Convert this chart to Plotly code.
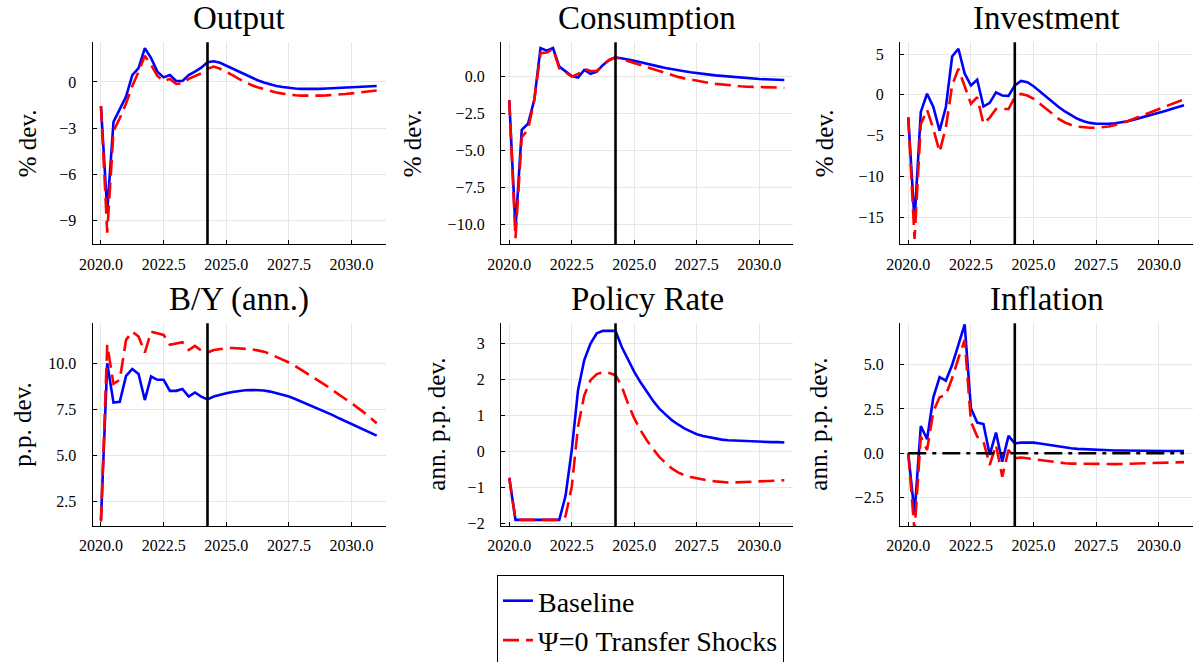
import plotly.graph_objects as go

# ---------------- data ----------------
quarters = [2020 + q / 4 for q in range(45)]
forecast_start = 2024.25

output_base = [-1.6, -8.4, -2.6, -1.8, -0.95, 0.45, 0.9, 2.2, 1.55, 0.67, 0.3, 0.45, 0.06, 0.06, 0.45, 0.67, 0.93, 1.28,
               1.35, 1.25, 1.06, 0.87, 0.67, 0.47, 0.28, 0.11, -0.04, -0.16, -0.26, -0.33, -0.39, -0.43, -0.45, -0.46,
               -0.46, -0.45, -0.43, -0.41, -0.39, -0.37, -0.35, -0.33, -0.3, -0.28, -0.26]
output_psi0 = [-1.56, -9.8, -3.2, -2.36, -1.4, -0.26, 0.67, 1.7, 1.1, 0.39, 0.06, 0.2, -0.13, -0.09, 0.2, 0.39, 0.56, 0.85,
               1.0, 0.86, 0.67, 0.44, 0.2, -0.01, -0.2, -0.35, -0.48, -0.6, -0.69, -0.76, -0.82, -0.86, -0.89, -0.9,
               -0.9, -0.89, -0.87, -0.85, -0.82, -0.78, -0.74, -0.7, -0.67, -0.62, -0.56]

cons_base = [-1.6, -10.3, -3.6, -3.2, -1.6, 1.9, 1.73, 1.9, 0.65, 0.32, 0.02, -0.09, 0.43, 0.16, 0.32, 0.77, 1.1, 1.28,
             1.22, 1.13, 1.04, 0.93, 0.83, 0.74, 0.65, 0.56, 0.47, 0.4, 0.34, 0.27, 0.2, 0.15, 0.11, 0.06, 0.02,
             -0.03, -0.07, -0.11, -0.14, -0.16, -0.18, -0.2, -0.22, -0.24, -0.25]
cons_psi0 = [-1.6, -10.9, -4.1, -3.6, -1.6, 1.55, 1.6, 1.82, 0.54, 0.25, -0.02, 0.16, 0.5, 0.36, 0.36, 0.77, 1.1, 1.28,
             1.15, 1.02, 0.88, 0.73, 0.59, 0.45, 0.32, 0.19, 0.07, -0.04, -0.14, -0.23, -0.32, -0.39, -0.45, -0.51,
             -0.56, -0.6, -0.63, -0.67, -0.7, -0.71, -0.72, -0.73, -0.74, -0.76, -0.77]

inv_base = [-2.8, -15.5, -2.1, 0.12, -1.5, -4.4, -1.5, 4.7, 5.65, 2.6, 1.15, 1.85, -1.45, -1.0, 0.3, -0.08, -0.15, 1.15,
            1.7, 1.55, 1.05, 0.4, -0.3, -0.9, -1.5, -2.05, -2.55, -2.95, -3.25, -3.45, -3.55, -3.58, -3.55, -3.5,
            -3.4, -3.25, -3.05, -2.85, -2.6, -2.4, -2.2, -1.98, -1.75, -1.53, -1.3]
inv_psi0 = [-2.75, -17.7, -3.6, -1.85, -4.2, -7.0, -4.0, 1.15, 3.2, 1.15, -1.1, -0.3, -3.55, -2.8, -1.75, -1.75, -1.75, -0.3,
            0.1, -0.1, -0.5, -1.1, -1.7, -2.35, -2.95, -3.4, -3.7, -3.9, -4.0, -4.05, -4.05, -4.0, -3.9, -3.7,
            -3.5, -3.25, -2.95, -2.65, -2.35, -2.05, -1.7, -1.4, -1.1, -0.85, -0.6]

by_base = [1.49, 10.0, 7.86, 7.9, 9.31, 9.69, 9.42, 8.0, 9.28, 9.1, 9.1, 8.5, 8.5, 8.6, 8.19, 8.41, 8.19, 8.04,
           8.19, 8.29, 8.37, 8.44, 8.5, 8.53, 8.55, 8.55, 8.52, 8.46, 8.37, 8.29, 8.19, 8.06, 7.92, 7.78, 7.64,
           7.49, 7.34, 7.18, 7.01, 6.86, 6.7, 6.54, 6.38, 6.22, 6.07]
by_psi0 = [1.4, 11.0, 8.88, 9.1, 11.27, 11.72, 11.45, 10.58, 11.72, 11.63, 11.54, 11.0, 11.09, 11.14, 10.72, 10.94, 10.69, 10.58,
           10.72, 10.78, 10.82, 10.83, 10.82, 10.8, 10.76, 10.7, 10.63, 10.5, 10.36, 10.2, 10.04, 9.85, 9.64, 9.43,
           9.22, 9.0, 8.77, 8.53, 8.28, 8.06, 7.83, 7.58, 7.32, 7.03, 6.74]

rate_base = [-0.73, -1.9, -1.9, -1.9, -1.9, -1.9, -1.9, -1.9, -1.9, -1.24, 0.04, 1.7, 2.54, 3.0, 3.28, 3.35, 3.35, 3.35,
             2.9, 2.54, 2.21, 1.92, 1.66, 1.41, 1.19, 1.02, 0.87, 0.75, 0.64, 0.56, 0.48, 0.43, 0.39, 0.36, 0.33,
             0.31, 0.3, 0.29, 0.28, 0.28, 0.27, 0.27, 0.26, 0.26, 0.25]
rate_psi0 = [-0.73, -1.9, -1.9, -1.9, -1.9, -1.9, -1.9, -1.9, -1.9, -1.8, -0.98, 0.69, 1.56, 1.98, 2.15, 2.2, 2.18, 2.12,
             1.8, 1.33, 0.92, 0.59, 0.31, 0.07, -0.15, -0.32, -0.47, -0.58, -0.66, -0.71, -0.75, -0.78, -0.81, -0.83,
             -0.85, -0.86, -0.86, -0.86, -0.85, -0.84, -0.83, -0.82, -0.81, -0.81, -0.8]

infl_base = [0.0, -3.4, 1.54, 0.79, 3.16, 4.29, 4.1, 4.98, 6.11, 7.27, 2.54, 1.73, 1.65, -0.09, 1.17, -0.47, 0.98, 0.56,
             0.6, 0.61, 0.6, 0.55, 0.49, 0.43, 0.38, 0.33, 0.28, 0.25, 0.23, 0.21, 0.19, 0.18, 0.17, 0.16, 0.16,
             0.15, 0.15, 0.14, 0.14, 0.14, 0.13, 0.13, 0.13, 0.13, 0.13]
infl_psi0 = [0.0, -4.4, 0.94, 0.19, 2.35, 3.16, 3.29, 4.23, 5.36, 6.39, 1.79, 0.94, 0.66, -0.66, 0.47, -1.32, 0.19, -0.28,
             -0.24, -0.29, -0.34, -0.39, -0.43, -0.48, -0.53, -0.56, -0.58, -0.59, -0.6, -0.61, -0.62, -0.62, -0.62,
             -0.61, -0.6, -0.59, -0.58, -0.57, -0.56, -0.55, -0.54, -0.53, -0.52, -0.51, -0.5]
infl_zero_x = [2020.0, 2031.0]
infl_zero_y = [0.0, 0.0]

titles = ["Output", "Consumption", "Investment", "B/Y (ann.)", "Policy Rate", "Inflation"]
ylabels = ["% dev.", "% dev.", "% dev.", "p.p. dev.", "ann. p.p. dev.", "ann. p.p. dev."]
series_names = ["Baseline", "Ψ=0 Transfer Shocks"]

x_tick_vals = [2020.0, 2022.5, 2025.0, 2027.5, 2030.0]
x_tick_text = ["2020.0", "2022.5", "2025.0", "2027.5", "2030.0"]

y_tick_vals = [[-9, -6, -3, 0], [-10, -7.5, -5, -2.5, 0], [-15, -10, -5, 0, 5],
               [2.5, 5, 7.5, 10], [-2, -1, 0, 1, 2, 3], [-2.5, 0, 2.5, 5]]
y_tick_text = [["−9", "−6", "−3", "0"], ["−10.0", "−7.5", "−5.0", "−2.5", "0.0"],
               ["−15", "−10", "−5", "0", "5"], ["2.5", "5.0", "7.5", "10.0"],
               ["−2", "−1", "0", "1", "2", "3"], ["−2.5", "0.0", "2.5", "5.0"]]

# ---------------- layout geometry ----------------
W, H = 1197, 662
FONT = "Liberation Serif"
y_ranges = [[-10.56, 2.58], [-11.32, 2.29], [-18.35, 6.44], [1.16, 12.17], [-2.07, 3.56], [-4.1, 7.33]]
x_range = [2019.67, 2031.36]
col_px = [(92.7, 385.7), (501.0, 793.3), (900.0, 1193.0)]
row_px = [(42.3, 244.3), (323.3, 526.0)]
title_y_px = [18, 299]
ylabel_x_px = [[27, 412, 824], [23, 437, 819]]

pairs = [(output_base, output_psi0), (cons_base, cons_psi0), (inv_base, inv_psi0),
         (by_base, by_psi0), (rate_base, rate_psi0), (infl_base, infl_psi0)]

fig = go.Figure()
annotations = []
shapes = []
for i, (base, psi0) in enumerate(pairs):
    r, c = divmod(i, 3)
    n = "" if i == 0 else str(i + 1)
    xa, ya = "x" + n, "y" + n
    fig.add_trace(go.Scatter(x=quarters, y=base, mode="lines", name=series_names[0],
                             line=dict(color="#0000ff", width=2.6), xaxis=xa, yaxis=ya,
                             showlegend=(i == 0), legendgroup="b"))
    fig.add_trace(go.Scatter(x=quarters, y=psi0, mode="lines", name=series_names[1],
                             line=dict(color="#ff0000", width=2.6, dash="16px,7px"), xaxis=xa, yaxis=ya,
                             showlegend=(i == 0), legendgroup="r"))
    if i == 5:
        fig.add_trace(go.Scatter(x=infl_zero_x, y=infl_zero_y, mode="lines", showlegend=False,
                                 line=dict(color="black", width=2.6, dash="18px,6px,4px,6px"),
                                 xaxis=xa, yaxis=ya))
    x0, x1 = col_px[c]
    y0, y1 = row_px[r]
    axstyle = dict(showline=True, linecolor="black", linewidth=1.3, mirror=False,
                   showgrid=True, gridcolor="#e6e6e6", gridwidth=1, zeroline=False,
                   ticks="inside", ticklen=4, tickwidth=1, tickcolor="black", automargin=False,
                   tickfont=dict(family=FONT, size=16, color="black"))
    fig.layout["xaxis" + n] = dict(domain=[x0 / W, x1 / W], range=x_range, anchor=ya,
                                   tickvals=x_tick_vals, ticktext=x_tick_text,
                                   ticklabelstandoff=5, **axstyle)
    fig.layout["yaxis" + n] = dict(domain=[1 - y1 / H, 1 - y0 / H], range=y_ranges[i], anchor=xa,
                                   tickvals=y_tick_vals[i], ticktext=y_tick_text[i],
                                   ticklabelstandoff=12, **axstyle)
    shapes.append(dict(type="line", xref=xa, yref=ya + " domain", x0=forecast_start, x1=forecast_start,
                       y0=0, y1=1, line=dict(color="black", width=2.6), layer="above"))
    annotations.append(dict(text=titles[i], xref="paper", yref="paper", x=(x0 + x1) / 2 / W,
                            y=1 - title_y_px[r] / H, xanchor="center", yanchor="middle", showarrow=False,
                            font=dict(family=FONT, size=33, color="black")))
    annotations.append(dict(text=ylabels[i], xref="paper", yref="paper", x=ylabel_x_px[r][c] / W,
                            y=1 - (y0 + y1) / 2 / H, xanchor="center", yanchor="middle", showarrow=False,
                            textangle=-90, font=dict(family=FONT, size=25, color="black")))

fig.update_layout(
    width=W, height=H, margin=dict(l=0, r=0, t=0, b=0, autoexpand=False),
    paper_bgcolor="white", plot_bgcolor="white",
    annotations=annotations, shapes=shapes,
    showlegend=True,
    legend=dict(x=497 / W, y=1 - 575 / H, xanchor="left", yanchor="top",
                bordercolor="black", borderwidth=1, bgcolor="white",
                font=dict(family=FONT, size=28, color="black"), itemwidth=30,
                tracegroupgap=0),
)

fig.write_html("out.html")
